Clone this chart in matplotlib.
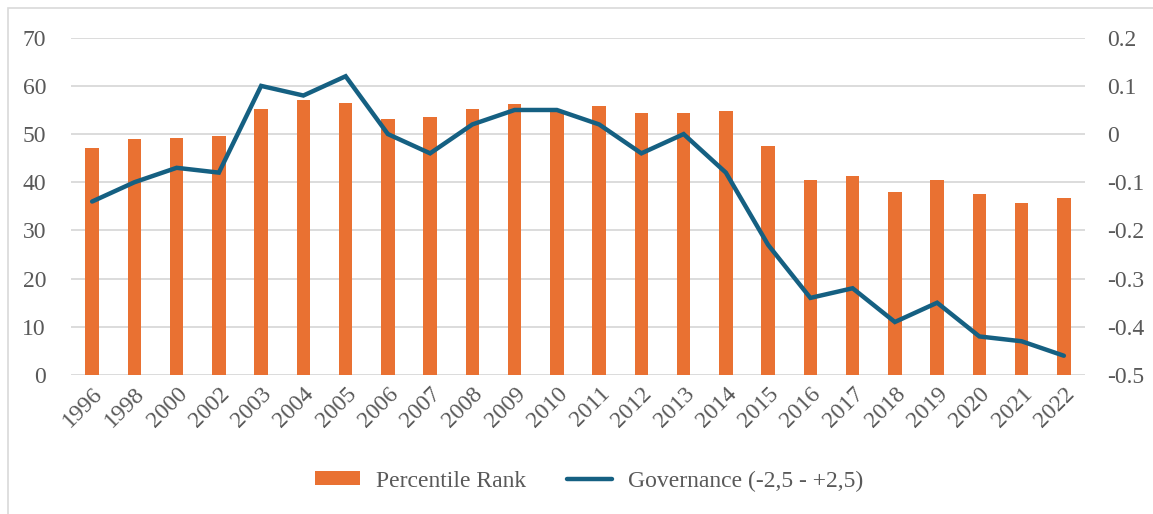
import matplotlib
import numpy as np

matplotlib.use("Agg")
import matplotlib.pyplot as plt
from matplotlib.patches import Rectangle

years = ["1996", "1998", "2000", "2002", "2003", "2004", "2005", "2006", "2007",
         "2008", "2009", "2010", "2011", "2012", "2013", "2014", "2015", "2016",
         "2017", "2018", "2019", "2020", "2021", "2022"]
percentile_rank = [47.2, 49.0, 49.2, 49.6, 55.2, 57.1, 56.4, 53.1, 53.5,
                   55.3, 56.3, 55.0, 55.8, 54.4, 54.4, 54.7, 47.6, 40.5,
                   41.4, 38.0, 40.5, 37.6, 35.7, 36.7]
governance = [-0.14, -0.10, -0.07, -0.08, 0.10, 0.08, 0.12, 0.00, -0.04,
              0.02, 0.05, 0.05, 0.02, -0.04, 0.00, -0.08, -0.23, -0.34,
              -0.32, -0.39, -0.35, -0.42, -0.43, -0.46]

ORANGE = "#E97132"
BLUE = "#156082"
TXT = "#595959"
GRID = "#D9D9D9"
FS = 17

plt.rcParams["font.family"] = ["Liberation Serif", "DejaVu Serif"]
plt.rcParams["font.size"] = FS

fig = plt.figure(figsize=(11.53, 5.14), dpi=100)
W, H = 1153, 514
# outer chart border (only left and top edges fall inside the image)
fig.patches.append(Rectangle((8 / W, -0.2), 1.2, 1.2 - 8 / H, transform=fig.transFigure,
                             fill=False, edgecolor=GRID, linewidth=1.2))

ax = fig.add_axes([71 / W, 1 - 375 / H, (1085 - 71) / W, (375 - 37.7) / H])
x = np.arange(len(years))
ax.bar(x, percentile_rank, width=0.32, color=ORANGE, zorder=2, label="Percentile Rank")
ax.set_xlim(-0.5, len(years) - 0.5)
ax.set_ylim(0, 70)
ax.set_yticks(range(0, 71, 10))
ax.yaxis.grid(True, color=GRID, linewidth=1.3, zorder=0)
ax.set_axisbelow(True)
for s in ax.spines.values():
    s.set_visible(False)
ax.tick_params(length=0, colors=TXT, labelsize=FS)
ax.tick_params(axis="y", pad=18)
ax.set_xticks(x)
ax.set_xticklabels(years, rotation=45, ha="right", va="top", rotation_mode="anchor")
ax.tick_params(axis="x", pad=6)

ax2 = ax.twinx()
ax2.plot(x, governance, color=BLUE, linewidth=3.2, solid_capstyle="round",
         solid_joinstyle="miter", zorder=3, label="Governance (-2,5 - +2,5)")
ax2.set_ylim(-0.5, 0.2)
ax2.set_yticks(np.round(np.arange(-0.5, 0.21, 0.1), 1))
ax2.set_yticklabels(["-0.5", "-0.4", "-0.3", "-0.2", "-0.1", "0", "0.1", "0.2"])
for s in ax2.spines.values():
    s.set_visible(False)
ax2.tick_params(length=0, colors=TXT, labelsize=FS, pad=16)

h1, l1 = ax.get_legend_handles_labels()
h2, l2 = ax2.get_legend_handles_labels()
fig.legend(h1 + h2, l1 + l2, loc="center", bbox_to_anchor=(0.511, 1 - 481 / H), ncol=2,
           frameon=False, fontsize=FS, labelcolor=TXT, handlelength=1.9,
           handleheight=0.5, columnspacing=1.7, handletextpad=0.7)

fig.savefig("out.png", dpi=100)
